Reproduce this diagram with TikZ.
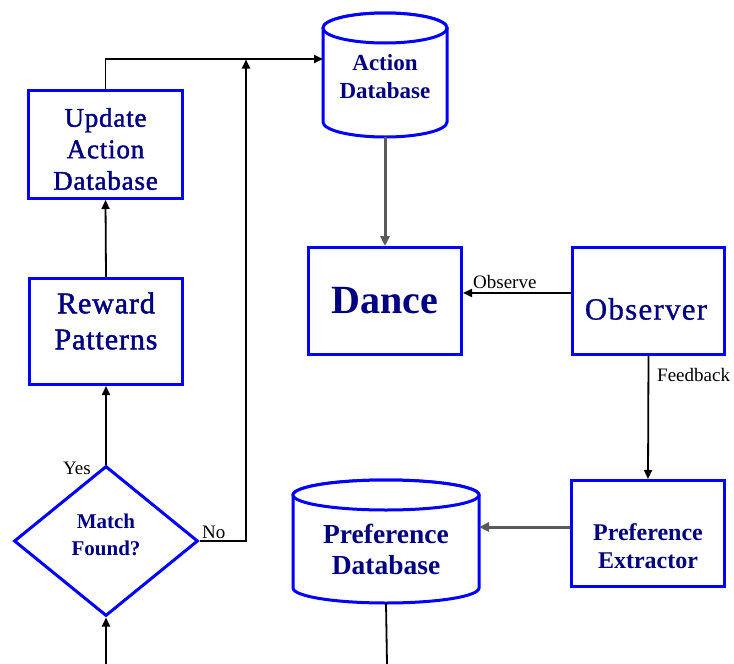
\documentclass[tikz,border=0pt]{standalone}
\usepackage{fontspec}
\setmainfont{Liberation Serif}
\newfontfamily\medserif[FakeBold=1.6, LetterSpace=3]{Liberation Serif}
\newfontfamily\wideserif[FakeBold=0.8, LetterSpace=4]{Liberation Serif}
\usetikzlibrary{arrows.meta,shapes.geometric}

\definecolor{boxblue}{RGB}{0,0,255}
\definecolor{txtnavy}{RGB}{0,0,128}
\definecolor{flowgray}{RGB}{90,90,90}

\newcommand{\fs}[2]{\fontsize{#1}{#2}\selectfont}

\tikzset{
  procbox/.style={draw=boxblue, line width=3pt, fill=white, rectangle,
    inner sep=0pt, minimum width=#1},
  procbox/.default=153pt,
  decision/.style={draw=boxblue, line width=3pt, fill=white, diamond,
    inner sep=0pt, minimum width=184pt, minimum height=150pt},
  dbframe/.style={rectangle, inner sep=0pt, outer sep=0pt, draw=none},
  dbline/.style={draw=boxblue, line width=3pt, fill=white},
  btxt/.style={text=txtnavy, align=center, font=\bfseries},
  rtxt/.style={text=txtnavy, align=center},
  lbl/.style={text=black, inner sep=0pt, font=\fs{19}{22}},
  flow/.style={draw=black, line width=1.8pt, -{Triangle[length=9pt,width=8pt]}},
  heavyflow/.style={draw=flowgray, line width=3pt, -{Triangle[length=10pt,width=9pt]}},
  plain/.style={draw=black, line width=1.8pt},
}

\begin{document}
\begin{tikzpicture}[x=1pt, y=-1pt]
  \useasboundingbox (0,0) rectangle (734,664);

  % ---- process boxes ----
  \node[procbox=154pt, minimum height=108pt] (update)   at (105.5,144.5) {};
  \node[procbox=153pt, minimum height=106pt] (reward)   at (106,331.5) {};
  \node[procbox=153pt, minimum height=107pt] (dance)    at (385,301) {};
  \node[procbox=152pt, minimum height=107pt] (observer) at (648.5,301) {};
  \node[procbox=153pt, minimum height=106pt] (extract)  at (648,533.5) {};
  \node[decision] (match) at (106,541) {};

  % ---- databases (cylinders) ----
  \node[dbframe, minimum width=124pt, minimum height=124pt] (actiondb) at (385,75) {};
  \node[dbframe, minimum width=186pt, minimum height=123pt] (prefdb) at (386,541.5) {};

  % Action Database cylinder
  \path[dbline] (323,28) -- (323,122) arc[start angle=180, end angle=360, x radius=62, y radius=-15]
        -- (447,28) arc[start angle=0, end angle=180, x radius=62, y radius=-15] -- cycle;
  \draw[dbline] (385,28) ellipse[x radius=62, y radius=15];

  % Preference Database cylinder
  \path[dbline] (293,495) -- (293,588) arc[start angle=180, end angle=360, x radius=93, y radius=-15]
        -- (479,495) arc[start angle=0, end angle=180, x radius=93, y radius=-15] -- cycle;
  \draw[dbline] (386,495) ellipse[x radius=93, y radius=15];

  % ---- texts ----
  \node[rtxt, font=\medserif\fs{27}{31.5}] (updatetxt) at (105.5,149) {Update\\Action\\Database};
  \node[rtxt, font=\medserif\fs{30}{36}]   (rewardtxt) at (106,321) {Reward\\Patterns};
  \node[btxt, font=\bfseries\fs{40}{44}] (dancetxt) at (385,301) {Dance};
  \node[rtxt, font=\wideserif\fs{31}{35}]   (observertxt) at (646,309) {Observer};
  \node[btxt, font=\bfseries\fs{23}{28}] (actiondbtxt) at (385,77) {Action\\Database};
  \node[btxt, font=\bfseries\fs{21}{27}] (matchtxt) at (106,535) {Match\\Found?};
  \node[btxt, font=\bfseries\fs{27.5}{31}]   (prefdbtxt) at (386,549) {Preference\\Database};
  \node[btxt, font=\bfseries\fs{24}{28}] (extracttxt) at (648,546) {Preference\\Extractor};

  % ---- free ends at the lower edge ----
  \coordinate (inmatch) at (106,664);
  \coordinate (outpref) at (387,664);
  \coordinate (toprow) at (0,59);

  % ---- connectors ----
  \draw[flow] (inmatch) -- (match.south);
  \draw[flow] (match.north) -- (reward.south);
  \draw[flow] (reward.north) -- (update.south);
  \draw[flow] (update.north) |- (actiondb.west |- toprow);
  \draw[flow] (match.east) -| (246,59.5);
  \draw[heavyflow] (actiondb.south) -- (dance.north);
  \draw[flow] (observer.west |- 0,293) -- (dance.east |- 0,293);
  \draw[flow] (observer.south) -- (extract.north);
  \draw[heavyflow] ([yshift=6.5pt]extract.west) -- ([yshift=6.5pt]extract.west -| prefdb.east);
  \draw[plain] (prefdb.south) -- (outpref);

  % ---- connector labels ----
  \node[lbl, anchor=east] (yes) at (91,468) {Yes};
  \node[lbl, anchor=west] (no) at (202,532) {No};
  \node[lbl, anchor=west] (observe) at (473,282) {Observe};
  \node[lbl, anchor=west] (feedback) at (657,375) {Feedback};
\end{tikzpicture}
\end{document}
